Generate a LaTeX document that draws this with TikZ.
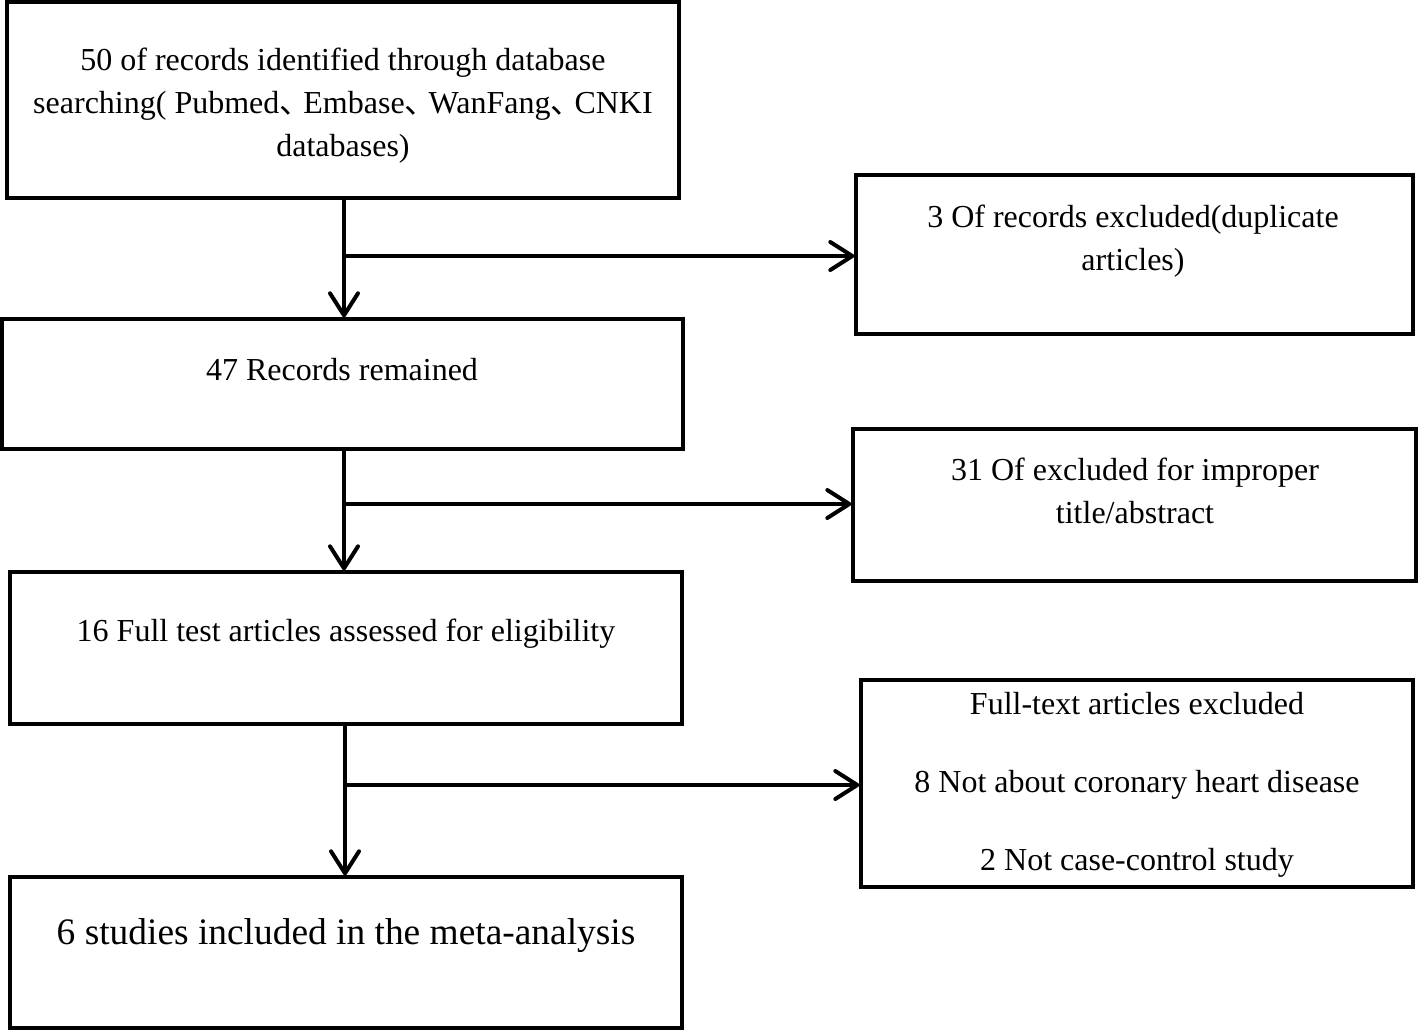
\documentclass[tikz,border=0pt]{standalone}
\usepackage{fontspec}
\setmainfont{Liberation Serif}
\newfontfamily\cjk{Noto Sans CJK SC}
\usetikzlibrary{arrows.meta}
\newcommand{\dun}{{\cjk 、}\kern-4pt}
\begin{document}
\begin{tikzpicture}[x=0.5pt,y=-0.5pt,
  box/.style={draw,line width=1.7pt,inner sep=0pt,rectangle},
  txt/.style={align=center,font=\fontsize{16pt}{21.5pt}\selectfont,inner sep=0pt},
  bigtxt/.style={align=center,font=\fontsize{18.7pt}{24pt}\selectfont,inner sep=0pt},
  arr/.style={line width=1.8pt,-{Straight Barb[length=11pt,width=14pt,line width=2pt,round]}}]
\useasboundingbox (0,0) rectangle (1418,1030);
% boxes
\node[box,minimum width=336pt,minimum height=98pt] (b1) at (343,100) {};
\node[box,minimum width=340.5pt,minimum height=65pt] (b2) at (342.5,384) {};
\node[box,minimum width=336pt,minimum height=76pt] (b3) at (346,648) {};
\node[box,minimum width=336pt,minimum height=75.5pt] (b4) at (346,952.5) {};
\node[box,minimum width=278.5pt,minimum height=79.5pt] (r1) at (1134.5,254.5) {};
\node[box,minimum width=281.5pt,minimum height=76pt] (r2) at (1134.5,505) {};
\node[box,minimum width=276pt,minimum height=103.5pt] (r3) at (1137,783.5) {};
% texts
\node[txt] (t1) at (343,106) {50 of records identified through database\\searching( Pubmed\dun Embase\dun WanFang\dun CNKI\\databases)};
\node[txt] (t2) at (342,370) {47 Records remained};
\node[txt] (t3) at (346,634) {16 Full test articles assessed for eligibility};
\node[bigtxt] (t4) at (346,936) {6 studies included in the meta-analysis};
\node[txt] (tr1) at (1133,241) {3 Of records excluded(duplicate\\articles)};
\node[txt] (tr2) at (1135,491) {31 Of excluded for improper\\title/abstract};
\node[txt] (tr3) at (1137,785) {Full-text articles excluded\\[17.5pt]8 Not about coronary heart disease\\[17.5pt]2 Not case-control study};
% junctions
\coordinate (j1) at (344,256);
\coordinate (j2) at (344,504);
\coordinate (j3) at (345,785);
% arrows
\draw[arr] (b1.south -| j1) -- (b2.north -| j1);
\draw[arr] (j1) -- (j1 -| r1.west);
\draw[arr] (b2.south -| j2) -- (b3.north -| j2);
\draw[arr] (j2) -- (j2 -| r2.west);
\draw[arr] (b3.south -| j3) -- (b4.north -| j3);
\draw[arr] (j3) -- (j3 -| r3.west);
\end{tikzpicture}
\end{document}
